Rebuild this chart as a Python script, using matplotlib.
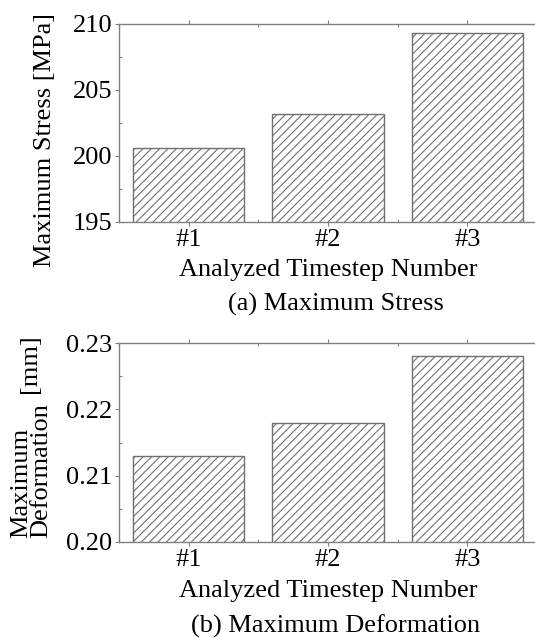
import matplotlib
matplotlib.use("Agg")
import matplotlib.pyplot as plt
from matplotlib.ticker import MultipleLocator

plt.rcParams['font.family'] = ['Liberation Serif', 'DejaVu Serif']
plt.rcParams['font.size'] = 19
plt.rcParams['hatch.color'] = '#707070'
plt.rcParams['hatch.linewidth'] = 0.8

steps = ['#1', '#2', '#3']
stress = [200.6, 203.2, 209.3]
deform = [0.213, 0.218, 0.228]

W, H = 535, 638
fig = plt.figure(figsize=(W / 100, H / 100), dpi=100)


def px(x0, y0, x1, y1):
    # pixel box -> figure fraction rect
    return [x0 / W, 1 - y1 / H, (x1 - x0) / W, (y1 - y0) / H]


def draw(ax, vals, ylim, major, minor, fmt):
    ax.bar(range(len(steps)), vals, width=0.8, color='white',
           edgecolor='#707070', linewidth=1.0, hatch='////')
    ax.set_xlim(-0.5, 2.5)
    ax.set_ylim(*ylim)
    ax.set_xticks(range(len(steps)))
    ax.set_xticklabels(steps)
    ax.xaxis.set_minor_locator(MultipleLocator(0.5))
    ax.yaxis.set_major_locator(MultipleLocator(major))
    ax.yaxis.set_minor_locator(MultipleLocator(minor))
    ax.yaxis.set_major_formatter(fmt)
    for s in ax.spines.values():
        s.set_color('#808080')
        s.set_linewidth(1.0)
    ax.tick_params(which='major', direction='out', length=3, width=0.8,
                   color='#808080', top=True, pad=2)
    ax.tick_params(which='minor', direction='in', length=2.5, width=0.8,
                   color='#808080', top=True)


ax1 = fig.add_axes(px(119, 24, 537, 222))
draw(ax1, stress, (195, 210), 5, 2.5, '{x:.0f}')

ax2 = fig.add_axes(px(119, 343, 537, 542))
draw(ax2, deform, (0.20, 0.23), 0.01, 0.005, '{x:.2f}')

# labels
fig.text(45 / W, 1 - 140 / H, 'Maximum Stress [MPa]', rotation=90,
         ha='center', va='center')
fig.text(328 / W, 1 - 270 / H, 'Analyzed Timestep Number', ha='center', va='center')
fig.text(336 / W, 1 - 304 / H, '(a) Maximum Stress', ha='center', va='center')

fig.text(31 / W, 1 - 538 / H, 'Maximum\nDeformation', rotation=90,
         ha='center', va='bottom', multialignment='left', linespacing=0.85)
fig.text(30 / W, 1 - 364 / H, '[mm]', rotation=90, ha='center', va='center')
fig.text(328 / W, 1 - 591 / H, 'Analyzed Timestep Number', ha='center', va='center')
fig.text(336 / W, 1 - 626 / H, '(b) Maximum Deformation', ha='center', va='center')

fig.savefig('out.png', dpi=100)
